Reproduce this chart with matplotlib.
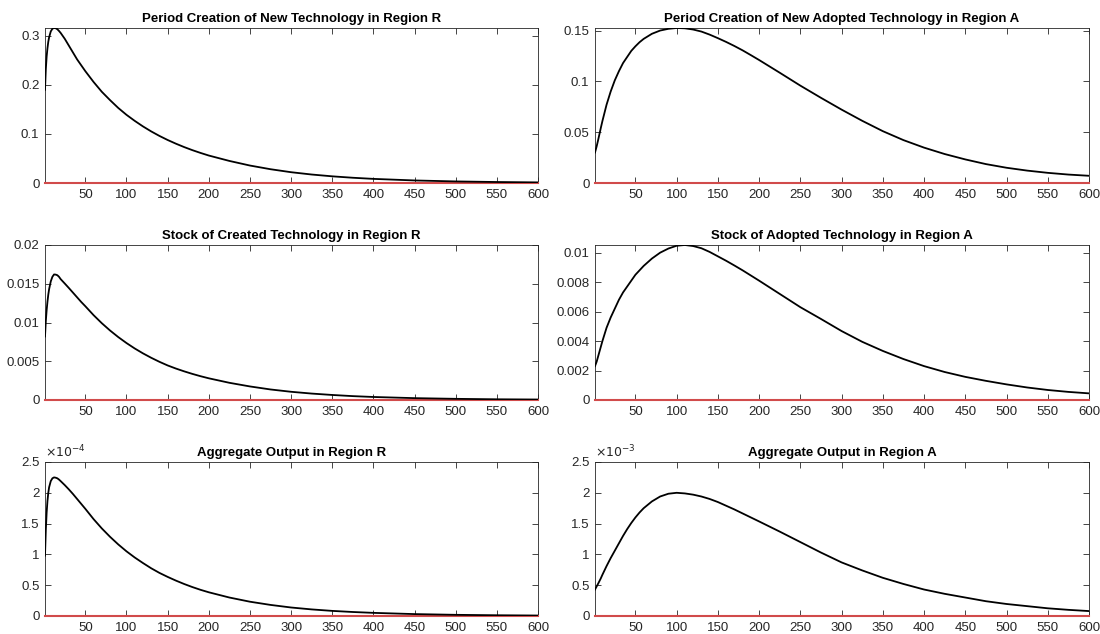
import numpy as np
import matplotlib
matplotlib.use("Agg")
import matplotlib.pyplot as plt
from matplotlib.ticker import FuncFormatter, MultipleLocator

plt.rcParams['font.family'] = ['Liberation Sans', 'DejaVu Sans']

# periods
t_R = [1, 2, 3, 4, 5, 6, 8, 10, 12, 14, 16, 18, 20, 25, 30, 35, 40, 45, 50, 60,
       70, 80, 90, 100, 110, 120, 130, 140, 150, 160, 170, 180, 190, 200, 225, 250,
       275, 300, 325, 350, 375, 400, 450, 500, 550, 600]
t_A = [1, 3, 5, 8, 10, 15, 20, 25, 30, 35, 40, 45, 50, 55, 60, 70, 80, 90, 100,
       110, 120, 130, 140, 150, 160, 170, 180, 190, 200, 225, 250, 275, 300, 325,
       350, 375, 400, 425, 450, 475, 500, 525, 550, 575, 600]

# Region R
creation_R = [0.19, 0.232, 0.258, 0.275, 0.288, 0.297, 0.309, 0.3145, 0.316, 0.3155,
              0.3135, 0.310, 0.306, 0.294, 0.280, 0.266, 0.252, 0.240, 0.228, 0.206,
              0.186, 0.169, 0.153, 0.139, 0.1267, 0.1154, 0.1052, 0.0960, 0.0877,
              0.0802, 0.0733, 0.0670, 0.0613, 0.0560, 0.0450, 0.0356, 0.0281, 0.0220,
              0.0173, 0.0136, 0.0107, 0.0084, 0.0052, 0.0032, 0.0020, 0.0012]
stock_R = [0.0082, 0.0102, 0.0116, 0.0127, 0.0136, 0.0143, 0.0153, 0.0159, 0.0162,
           0.01618, 0.0161, 0.0159, 0.0156, 0.01503, 0.01445, 0.01385, 0.01325,
           0.01265, 0.0121, 0.01095, 0.00991, 0.00897, 0.00812, 0.00735, 0.00665,
           0.00602, 0.00545, 0.00493, 0.00446, 0.00406, 0.0037, 0.00337, 0.00307,
           0.0028, 0.00222, 0.00175, 0.00136, 0.00106, 0.00083, 0.00065, 0.0005,
           0.00039, 0.00024, 0.00015, 0.00009, 0.00006]
output_R = np.array([0.98, 1.40, 1.68, 1.87, 2.00, 2.09, 2.19, 2.235, 2.25, 2.245,
                     2.235, 2.215, 2.19, 2.125, 2.055, 1.98, 1.90, 1.82, 1.74, 1.573,
                     1.422, 1.286, 1.162, 1.05, 0.95, 0.86, 0.775, 0.70, 0.635, 0.575,
                     0.52, 0.47, 0.425, 0.385, 0.30, 0.232, 0.18, 0.138, 0.107,
                     0.083, 0.065, 0.051, 0.031, 0.019, 0.012, 0.0075]) * 1e-4

# Region A
creation_A = [0.030, 0.036, 0.043, 0.054, 0.061, 0.077, 0.090, 0.101, 0.110, 0.118,
              0.124, 0.130, 0.1345, 0.1385, 0.1418, 0.1468, 0.1500, 0.1517, 0.1525,
              0.1522, 0.1510, 0.1490, 0.1460, 0.1425, 0.1388, 0.1348, 0.1305, 0.1258,
              0.1210, 0.1085, 0.0958, 0.0838, 0.0722, 0.0612, 0.0510, 0.0422, 0.0348,
              0.0285, 0.0232, 0.0186, 0.0150, 0.0122, 0.0100, 0.0083, 0.0071]
stock_A = [0.0023, 0.0026, 0.0030, 0.0036, 0.0040, 0.0049, 0.0056, 0.0062, 0.0068,
           0.0073, 0.0077, 0.0081, 0.0085, 0.0088, 0.0091, 0.0096, 0.0100, 0.01028,
           0.01047, 0.01052, 0.01045, 0.0103, 0.01005, 0.00975, 0.00945, 0.00913,
           0.0088, 0.00845, 0.0081, 0.0072, 0.0063, 0.0055, 0.00468, 0.00395,
           0.00333, 0.00278, 0.0023, 0.0019, 0.00157, 0.0013, 0.00106, 0.00085,
           0.00068, 0.00055, 0.00045]
output_A = np.array([0.43, 0.48, 0.53, 0.61, 0.67, 0.81, 0.94, 1.06, 1.18, 1.30,
                     1.41, 1.51, 1.60, 1.68, 1.75, 1.86, 1.94, 1.985, 2.0, 1.99,
                     1.97, 1.94, 1.90, 1.85, 1.79, 1.73, 1.665, 1.60, 1.535,
                     1.37, 1.20, 1.03, 0.87, 0.74, 0.62, 0.52, 0.43, 0.36, 0.30,
                     0.24, 0.195, 0.16, 0.125, 0.10, 0.08]) * 1e-3

panels = [
    ("Period Creation of New Technology in Region R", t_R, creation_R, None, 0.1, None),
    ("Period Creation of New Adopted Technology in Region A", t_A, creation_A, None, 0.05, None),
    ("Stock of Created Technology in Region R", t_R, stock_R, 0.02, 0.005, None),
    ("Stock of Adopted Technology in Region A", t_A, stock_A, None, 0.002, None),
    ("Aggregate Output in Region R", t_R, output_R, 2.5e-4, 0.5e-4, -4),
    ("Aggregate Output in Region A", t_A, output_A, 2.5e-3, 0.5e-3, -3),
]

W, H = 1100, 634
lefts = [45, 595]
widths = [493, 494]
rows = [(28, 183), (245, 400), (462, 616)]

fig = plt.figure(figsize=(11, 6.34), dpi=100)
text_col = '#262626'

for i, (title, t, y, ytop, ystep, expo) in enumerate(panels):
    r, c = divmod(i, 2)
    top, bot = rows[r]
    ax = fig.add_axes([lefts[c] / W, 1 - bot / H, widths[c] / W, (bot - top) / H])
    ax.plot(t, y, color='black', lw=1.3, zorder=4)
    ax.plot(t, np.zeros(len(t)), color='#d14b4b', lw=1.5, zorder=3, clip_on=False)
    ax.set_xlim(1, 600)
    ax.set_ylim(0, ytop if ytop else max(y))
    ax.set_xticks(np.arange(50, 601, 50))
    ax.yaxis.set_major_locator(MultipleLocator(ystep))
    if expo is None:
        ax.yaxis.set_major_formatter(FuncFormatter(lambda v, p: '%g' % round(v, 6)))
    else:
        s = 10.0 ** expo
        ax.yaxis.set_major_formatter(FuncFormatter(lambda v, p, s=s: '%g' % round(v / s, 6)))
        ax.text(0.0, 1.01, r'$\times10^{%d}$' % expo, transform=ax.transAxes,
                fontsize=9, color=text_col, ha='left', va='bottom')
    ax.tick_params(direction='in', top=True, right=True, length=4, width=0.6,
                   colors=text_col, labelsize=9.5, pad=4)
    for sp in ax.spines.values():
        sp.set_color(text_col)
        sp.set_linewidth(0.6)
    ax.set_title(title, fontsize=9.5, fontweight='bold', color='black', pad=4)

fig.savefig('out.png', dpi=100)
